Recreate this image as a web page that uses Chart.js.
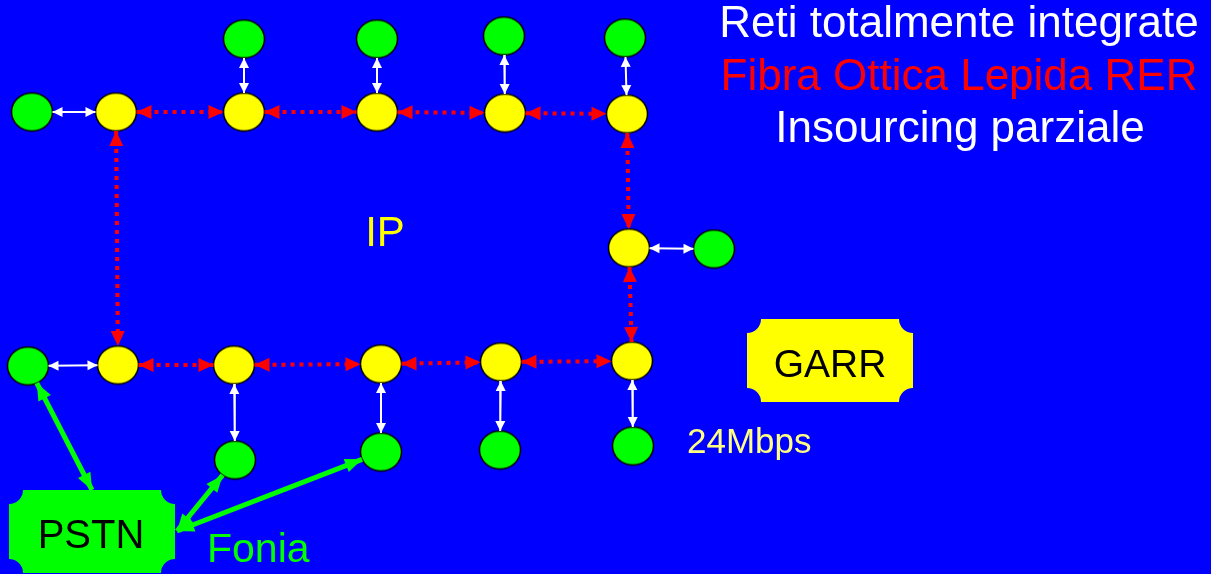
<!DOCTYPE html>
<html>
<head>
<meta charset="utf-8">
<script src="https://cdn.jsdelivr.net/npm/chart.js@4"></script>
<style>
  html, body { margin: 0; padding: 0; background: #0000ff; }
  #wrap { width: 1211px; height: 574px; }
</style>
</head>
<body>
<div id="wrap"><canvas id="rete"></canvas></div>
<script>
// nodi gialli (router in fibra) e verdi (sedi)
const yellowX = [116, 244, 377, 505, 627, 629, 118, 234, 381, 501, 632];
const yellowY = [112, 112, 112, 113, 114, 248, 365, 365, 364, 362, 361];
const greenX = [32, 244, 377, 504, 625, 714, 28, 235, 381, 500, 633];
const greenY = [112, 39, 39, 36, 38, 249, 366, 460, 452, 450, 446];

// punti di aggancio dei riquadri GARR e PSTN
const anchorX = { GARR: 747, PSTN_top: 92, PSTN_dx: 177 };
const anchorY = { GARR: 361, PSTN_top: 490, PSTN_dx: 531 };

// collegamenti
const fibraLinks = [['Y0','Y1'],['Y1','Y2'],['Y2','Y3'],['Y3','Y4'],['Y0','Y6'],['Y4','Y5'],
                    ['Y5','Y10'],['Y6','Y7'],['Y7','Y8'],['Y8','Y9'],['Y9','Y10']];
const accessLinks = [['G0','Y0'],['G1','Y1'],['G2','Y2'],['G3','Y3'],['G4','Y4'],['Y5','G5'],
                     ['G6','Y6'],['Y7','G7'],['Y8','G8'],['Y9','G9'],['Y10','G10']];
const garrLinks = [['Y10','GARR']];
const foniaLinks = [['PSTN_top','G6'],['PSTN_dx','G7'],['PSTN_dx','G8']];

const RX = 20.5, RY = 19;

function nodeAt(name) {
  if (name[0] === 'Y') { const i = +name.slice(1); return { x: yellowX[i], y: yellowY[i], r: true }; }
  if (name[0] === 'G') { const i = +name.slice(1); return { x: greenX[i], y: greenY[i], r: true }; }
  return { x: anchorX[name], y: anchorY[name], r: false };
}

// accorcia il segmento fino al bordo dell'ellisse
function edgePoints(pair) {
  const a = nodeAt(pair[0]), b = nodeAt(pair[1]);
  const dx = b.x - a.x, dy = b.y - a.y;
  const len = Math.hypot(dx, dy);
  const ux = dx / len, uy = dy / len;
  const t = 1 / Math.sqrt((ux / RX) ** 2 + (uy / RY) ** 2);
  const ta = a.r ? t : 0, tb = b.r ? t : 0;
  return [{ x: a.x + ux * ta, y: a.y + uy * ta }, { x: b.x - ux * tb, y: b.y - uy * tb }];
}

function ellipseImg(fill) {
  const c = document.createElement('canvas');
  c.width = 44; c.height = 41;
  const g = c.getContext('2d');
  g.beginPath();
  g.ellipse(22, 20.5, 20.5, 19, 0, 0, Math.PI * 2);
  g.fillStyle = fill;
  g.fill();
  g.lineWidth = 1.5;
  g.strokeStyle = '#000';
  g.stroke();
  return c;
}

const datasets = [];
function addLinks(links, color, width, dash, head) {
  links.forEach(p => {
    datasets.push({
      data: edgePoints(p),
      showLine: true,
      borderColor: color,
      borderWidth: width,
      borderDash: dash,
      borderCapStyle: 'butt',
      pointRadius: 0,
      head: head
    });
  });
}
addLinks(fibraLinks, '#ff0000', 4, [4, 5], [15, 14]);
addLinks(accessLinks, '#ffffff', 2, [], [10, 10]);
addLinks(garrLinks, '#ffff00', 5, [], [16, 17]);
addLinks(foniaLinks, '#00ff00', 5, [], [17, 14]);

datasets.push({
  data: yellowX.map((x, i) => ({ x: x, y: yellowY[i] })),
  pointStyle: ellipseImg('#ffff00'),
  pointRadius: 20
});
datasets.push({
  data: greenX.map((x, i) => ({ x: x, y: greenY[i] })),
  pointStyle: ellipseImg('#00ff00'),
  pointRadius: 20
});

const boxes = [
  { x0: 747, y0: 319, x1: 913, y1: 402, color: '#ffff00' },
  { x0: 9, y0: 490, x1: 175, y1: 573, color: '#00ff00' }
];

const labels = [
  { text: 'Reti totalmente integrate', x: 959, y: 37, color: '#ffffff', size: 44, align: 'center' },
  { text: 'Fibra Ottica Lepida RER', x: 959, y: 90, color: '#ff0000', size: 44, align: 'center' },
  { text: 'Insourcing parziale', x: 960, y: 142, color: '#ffffff', size: 44, align: 'center' },
  { text: 'IP', x: 385, y: 246, color: '#ffff00', size: 42, align: 'center' },
  { text: 'GARR', x: 830, y: 377, color: '#000000', size: 39, align: 'center' },
  { text: '24Mbps', x: 687, y: 453, color: '#ffff80', size: 35, align: 'left' },
  { text: 'PSTN', x: 91, y: 548, color: '#000000', size: 40, align: 'center' },
  { text: 'Fonia', x: 207, y: 562, color: '#00ff00', size: 41, align: 'left' }
];

const sfondo = {
  id: 'sfondo',
  beforeDraw(chart) {
    const ctx = chart.ctx;
    ctx.save();
    ctx.fillStyle = '#0000ff';
    ctx.fillRect(0, 0, chart.width, chart.height);
    ctx.restore();
  }
};

const riquadri = {
  id: 'riquadri',
  beforeDatasetsDraw(chart) {
    const ctx = chart.ctx, sx = chart.scales.x, sy = chart.scales.y;
    boxes.forEach(b => {
      const x0 = sx.getPixelForValue(b.x0), x1 = sx.getPixelForValue(b.x1);
      const y0 = sy.getPixelForValue(b.y0), y1 = sy.getPixelForValue(b.y1);
      const r = 14;
      ctx.save();
      ctx.beginPath();
      ctx.moveTo(x0 + r, y0);
      ctx.lineTo(x1 - r, y0);
      ctx.arc(x1, y0, r, Math.PI, Math.PI / 2, true);
      ctx.lineTo(x1, y1 - r);
      ctx.arc(x1, y1, r, Math.PI * 1.5, Math.PI, true);
      ctx.lineTo(x0 + r, y1);
      ctx.arc(x0, y1, r, 0, -Math.PI / 2, true);
      ctx.lineTo(x0, y0 + r);
      ctx.arc(x0, y0, r, Math.PI / 2, 0, true);
      ctx.closePath();
      ctx.fillStyle = b.color;
      ctx.fill();
      ctx.restore();
    });
  }
};

function drawHead(ctx, tip, from, len, wid, color) {
  const ang = Math.atan2(tip.y - from.y, tip.x - from.x);
  ctx.save();
  ctx.translate(tip.x, tip.y);
  ctx.rotate(ang);
  ctx.beginPath();
  ctx.moveTo(0, 0);
  ctx.lineTo(-len, -wid / 2);
  ctx.lineTo(-len, wid / 2);
  ctx.closePath();
  ctx.fillStyle = color;
  ctx.fill();
  ctx.restore();
}

const frecce = {
  id: 'frecce',
  afterDatasetDraw(chart, args) {
    const ds = chart.data.datasets[args.index];
    if (!ds.head) return;
    const pts = args.meta.data;
    drawHead(chart.ctx, pts[1], pts[0], ds.head[0], ds.head[1], ds.borderColor);
    drawHead(chart.ctx, pts[0], pts[1], ds.head[0], ds.head[1], ds.borderColor);
  }
};

const testi = {
  id: 'testi',
  afterDatasetsDraw(chart) {
    const ctx = chart.ctx, sx = chart.scales.x, sy = chart.scales.y;
    labels.forEach(l => {
      ctx.save();
      ctx.font = l.size + 'px "Liberation Sans", Arial, sans-serif';
      ctx.fillStyle = l.color;
      ctx.textAlign = l.align;
      ctx.textBaseline = 'alphabetic';
      ctx.fillText(l.text, sx.getPixelForValue(l.x), sy.getPixelForValue(l.y));
      ctx.restore();
    });
  }
};

new Chart(document.getElementById('rete'), {
  type: 'scatter',
  data: { datasets: datasets },
  options: {
    responsive: true,
    maintainAspectRatio: false,
    animation: false,
    events: [],
    layout: { padding: 0, autoPadding: false },
    clip: false,
    scales: {
      x: { type: 'linear', min: 0, max: 1211, display: false },
      y: { type: 'linear', min: 0, max: 574, reverse: true, display: false }
    },
    plugins: {
      legend: { display: false },
      tooltip: { enabled: false },
      title: { display: false }
    }
  },
  plugins: [sfondo, riquadri, frecce, testi]
});
</script>
</body>
</html>
